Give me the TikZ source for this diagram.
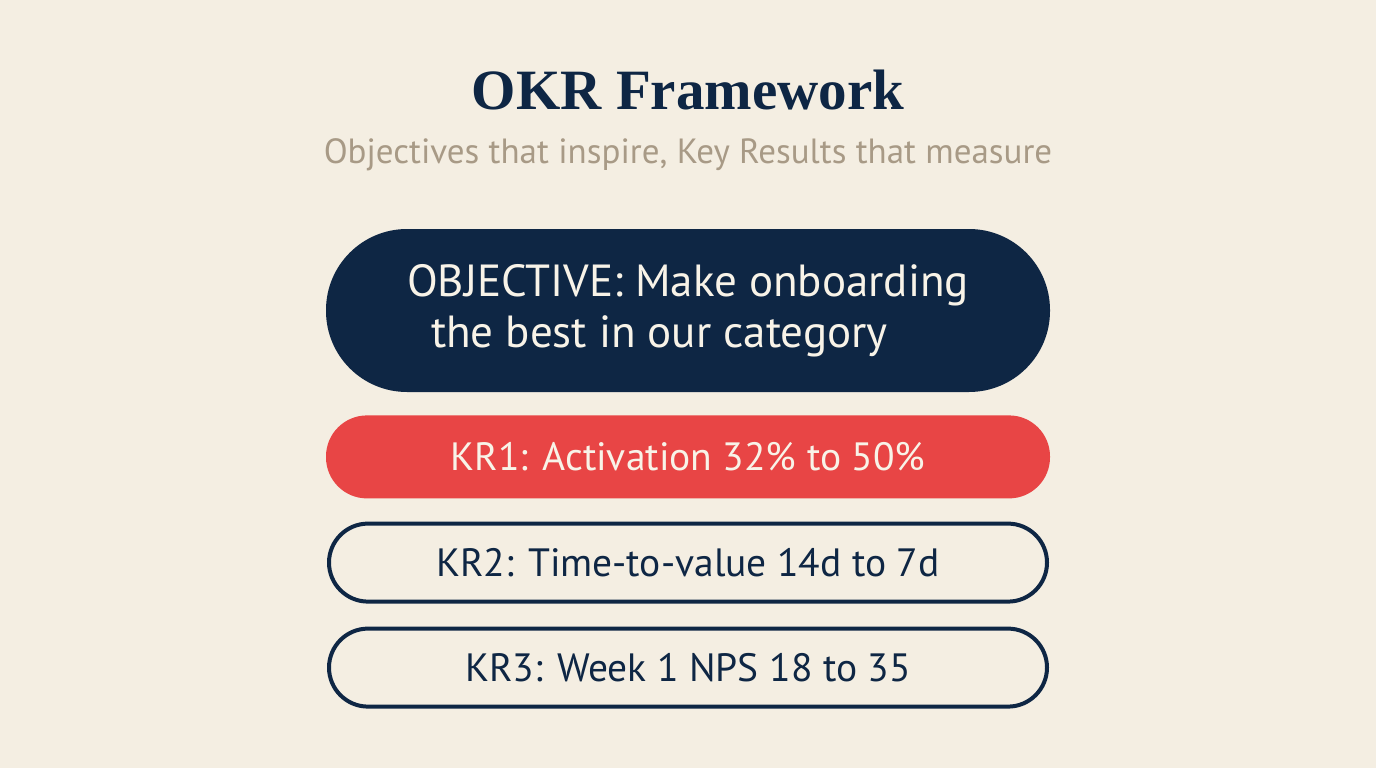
\documentclass[tikz,border=0pt]{standalone}
\usepackage{fontspec}
\setmainfont{Liberation Serif}
\setsansfont{PT Sans}
\usetikzlibrary{positioning}
\definecolor{okrpaper}{RGB}{244,238,226}
\definecolor{okrnavy}{RGB}{14,38,68}
\definecolor{okrred}{RGB}{232,69,69}
\definecolor{okrtan}{RGB}{168,154,134}
\definecolor{okrcream}{RGB}{248,243,232}
\tikzset{pill/.style={rectangle, rounded corners=41pt, minimum width=724pt, minimum height=83pt, inner sep=0pt,
           font=\sffamily\fontsize{39.5}{44}\selectfont},
         objpill/.style={pill, fill=okrnavy, text=okrcream, minimum height=163pt, rounded corners=81pt,
           align=left, font=\sffamily\fontsize{45}{51}\selectfont},
         krfilled/.style={pill, fill=okrred, text=okrcream},
         kropen/.style={pill, draw=okrnavy, line width=4pt, fill=okrpaper, text=okrnavy,
           minimum width=718pt, minimum height=78pt, rounded corners=39pt}}

\begin{document}
\begin{tikzpicture}[x=1pt, y=1pt, node distance=23pt]
    \fill[okrpaper] (0,0) rectangle (1376,-768);
    \node (Title) at (688,-90) {\bfseries\fontsize{57}{64}\selectfont\color{okrnavy}OKR Framework};
    \node (Sub) at (688,-155) {\sffamily\fontsize{35}{40}\selectfont\color{okrtan}Objectives that inspire, Key Results that measure};
    \node[objpill] (Obj) at (688,-310.5) {OBJECTIVE: Make onboarding\\\hspace*{24pt}the best in our category};
    \node[krfilled, below=of Obj] (KR1) {KR1: Activation 32\% to 50\%};
    \node[kropen, below=of KR1] (KR2) {KR2: Time-to-value 14d to 7d};
    \node[kropen, below=of KR2] (KR3) {KR3: Week 1 NPS 18 to 35};
\end{tikzpicture}
\end{document}
